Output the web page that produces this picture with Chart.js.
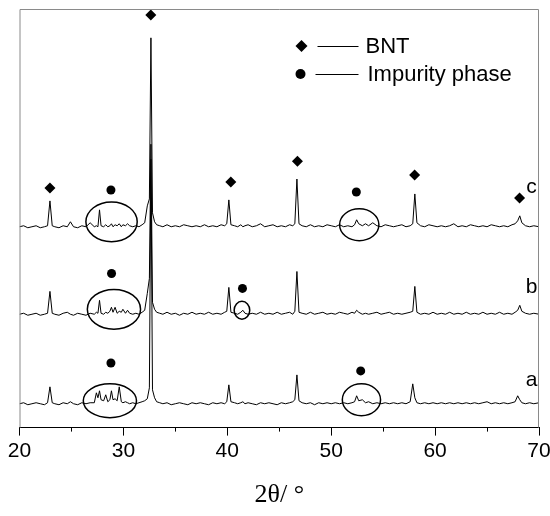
<!DOCTYPE html>
<html>
<head>
<meta charset="utf-8">
<script src="https://cdn.jsdelivr.net/npm/chart.js@4.4.1/dist/chart.umd.min.js"></script>
<style>
  body { margin: 0; background: #fff; }
  #wrap { width: 550px; height: 516px; position: relative; }
</style>
</head>
<body>
<div id="wrap"><canvas id="xrd-chart"></canvas></div>
<script>
// 2theta grid shared by the three patterns
const twoTheta = [
  20.0, 20.4, 20.8, 21.2, 21.6, 22.0, 22.4, 22.7, 22.93, 23.15,
  23.4, 23.8, 24.2, 24.6, 24.9, 25.2, 25.6, 26.0, 26.4, 26.8,
  27.2, 27.4, 27.55, 27.7, 27.85, 28.1, 28.3, 28.5, 28.7, 28.85,
  29.0, 29.2, 29.4, 29.6, 29.8, 29.95, 30.2, 30.4, 30.6, 30.9,
  31.2, 31.5, 31.8, 32.05, 32.3, 32.5, 32.65, 32.8, 33.0, 33.2,
  33.5, 33.8, 34.2, 34.6, 35.0, 35.4, 35.8, 36.2, 36.6, 37.0,
  37.4, 37.8, 38.2, 38.6, 39.0, 39.4, 39.75, 39.95, 40.15, 40.35,
  40.7, 41.0, 41.3, 41.5, 41.7, 42.0, 42.4, 42.8, 43.2, 43.6,
  44.0, 44.4, 44.8, 45.2, 45.6, 46.0, 46.3, 46.5, 46.7, 46.9,
  47.2, 47.6, 48.0, 48.4, 48.8, 49.2, 49.6, 50.0, 50.4, 50.8,
  51.2, 51.6, 52.0, 52.25, 52.45, 52.65, 53.0, 53.3, 53.6, 54.0,
  54.4, 54.8, 55.2, 55.6, 56.0, 56.4, 56.8, 57.2, 57.6, 57.85,
  58.05, 58.25, 58.6, 59.0, 59.4, 59.8, 60.2, 60.6, 61.0, 61.4,
  61.8, 62.2, 62.6, 63.0, 63.4, 63.8, 64.2, 64.6, 65.0, 65.4,
  65.8, 66.2, 66.6, 67.0, 67.4, 67.7, 67.95, 68.15, 68.35, 68.7,
  69.1, 69.5, 70.0
];

// intensities (arbitrary units, patterns already stacked)
const traceC = [
  202, 203, 201, 202, 203, 201, 202, 203, 228, 203,
  202, 201, 203, 202, 207, 202, 201, 203, 202, 206,
  202, 203, 202, 219, 203, 202, 204, 202, 203, 205,
  202, 204, 203, 205, 202, 204, 203, 205, 203, 202,
  203, 202, 204, 206, 223, 230, 392, 216, 207, 204,
  203, 202, 204, 202, 203, 202, 204, 203, 202, 203,
  202, 204, 202, 203, 202, 204, 203, 205, 229, 204,
  203, 202, 204, 202, 203, 204, 202, 203, 205, 202,
  203, 204, 202, 203, 202, 204, 203, 205, 250, 205,
  203, 202, 204, 202, 203, 202, 204, 203, 202, 204,
  202, 203, 202, 204, 209, 205, 203, 205, 203, 206,
  203, 202, 204, 203, 202, 203, 204, 202, 203, 205,
  235, 206, 203, 202, 204, 203, 202, 203, 202, 203,
  205, 202, 203, 202, 204, 203, 202, 203, 202, 204,
  203, 202, 203, 202, 204, 205, 208, 213, 206, 203,
  202, 203, 202
];

const traceB = [
  114, 115, 113, 114, 115, 113, 114, 115, 137, 115,
  114, 113, 115, 116, 114, 113, 115, 114, 113, 115,
  114, 116, 115, 128, 115, 114, 116, 115, 117, 121,
  116, 121, 115, 117, 116, 119, 115, 118, 115, 114,
  115, 114, 116, 118, 135, 150, 285, 126, 119, 116,
  115, 114, 116, 114, 115, 113, 115, 114, 116, 114,
  115, 114, 116, 114, 115, 114, 116, 117, 141, 116,
  115, 114, 116, 118, 115, 114, 115, 114, 116, 114,
  115, 114, 116, 114, 115, 116, 114, 117, 157, 116,
  115, 114, 116, 114, 115, 116, 114, 115, 114, 116,
  115, 114, 116, 115, 118, 116, 114, 115, 114, 115,
  116, 114, 115, 116, 114, 115, 114, 115, 116, 117,
  142, 116, 114, 115, 114, 116, 114, 115, 114, 116,
  114, 115, 114, 116, 114, 115, 114, 116, 114, 115,
  114, 116, 114, 115, 114, 116, 118, 123, 117, 115,
  114, 115, 114
];

const traceA = [
  24, 25, 23, 24, 25, 24, 23, 25, 41, 25,
  24, 23, 25, 24, 26, 24, 23, 25, 24, 25,
  25, 35, 30, 37, 28, 27, 33, 26, 28, 37,
  28, 29, 27, 41, 26, 25, 26, 25, 24, 25,
  24, 25, 26, 27, 29, 40, 270, 38, 30, 26,
  25, 24, 25, 23, 24, 25, 24, 23, 25, 24,
  25, 24, 23, 25, 24, 25, 24, 26, 43, 26,
  25, 24, 25, 26, 24, 25, 24, 23, 25, 24,
  25, 24, 23, 25, 24, 25, 26, 28, 53, 27,
  25, 24, 25, 23, 25, 24, 25, 24, 25, 24,
  25, 24, 25, 26, 32, 27, 28, 25, 26, 24,
  25, 24, 25, 24, 25, 24, 25, 24, 26, 44,
  30, 25, 24, 25, 24, 25, 24, 25, 24, 25,
  24, 25, 24, 25, 24, 25, 24, 25, 26, 24,
  25, 24, 25, 24, 25, 26, 32, 28, 25, 24,
  25, 24, 25
];

// phase markers
const bntX = [22.93, 32.64, 40.34, 46.75, 58.03, 68.13];
const bntY = [241, 415, 247, 268, 254, 231];
const impurityX = [28.8, 52.42, 28.86, 41.46, 28.8, 52.84];
const impurityY = [239, 237, 155, 140, 65, 57];

// circled regions: centre angle, centre intensity, half width (deg), half height
const ringX = [28.86, 52.7, 29.09, 41.41, 28.7, 52.91];
const ringY = [207, 204, 119, 118, 27, 28];
const ringW = [2.47, 1.89, 2.56, 0.75, 2.56, 1.84];
const ringH = [20, 16, 20, 9, 17, 16];

const sampleNames = ["c", "b", "a"];
const sampleLabelX = [69.28, 69.28, 69.28];
const sampleLabelY = [236, 135, 42];

const xTicks = [20, 30, 40, 50, 60, 70];
const minorTicks = [25, 35, 45, 55, 65];

const sansFont = "'Liberation Sans', Arial, sans-serif";

function toPoints(xs, ys) {
  return xs.map((x, i) => ({ x: x, y: ys[i] }));
}

const lineStyle = {
  showLine: true,
  borderColor: '#000',
  borderWidth: 1,
  pointRadius: 0,
  tension: 0
};

// frame, minor ticks, rings, sample labels and the legend box
const extrasPlugin = {
  id: 'extras',
  afterDatasetsDraw(chart) {
    const ctx = chart.ctx;
    const xs = chart.scales.x, ys = chart.scales.y;
    const area = chart.chartArea;

    ctx.save();
    // grey frame on top, left, right
    ctx.strokeStyle = '#8a8a8a';
    ctx.lineWidth = 1;
    ctx.beginPath();
    ctx.moveTo(area.left + 0.5, area.bottom);
    ctx.lineTo(area.left + 0.5, area.top + 0.5);
    ctx.lineTo(area.right - 0.5, area.top + 0.5);
    ctx.lineTo(area.right - 0.5, area.bottom);
    ctx.stroke();

    // minor ticks
    ctx.strokeStyle = '#000';
    ctx.beginPath();
    minorTicks.forEach(v => {
      const px = Math.round(xs.getPixelForValue(v)) + 0.5;
      ctx.moveTo(px, area.bottom);
      ctx.lineTo(px, area.bottom + 4);
    });
    ctx.stroke();

    // rings
    ctx.lineWidth = 1.5;
    ringX.forEach((cxv, i) => {
      const cx = xs.getPixelForValue(cxv);
      const cy = ys.getPixelForValue(ringY[i]);
      const rx = Math.abs(xs.getPixelForValue(cxv + ringW[i]) - cx);
      const ry = Math.abs(ys.getPixelForValue(ringY[i] + ringH[i]) - cy);
      ctx.beginPath();
      ctx.ellipse(cx, cy, rx, ry, 0, 0, Math.PI * 2);
      ctx.stroke();
    });

    // a, b, c
    ctx.fillStyle = '#000';
    ctx.font = '21px ' + sansFont;
    ctx.textAlign = 'center';
    ctx.textBaseline = 'alphabetic';
    sampleNames.forEach((name, i) => {
      ctx.fillText(name, xs.getPixelForValue(sampleLabelX[i]), ys.getPixelForValue(sampleLabelY[i]));
    });

    // legend
    const lx = area.left, ly = area.top;
    ctx.lineWidth = 1;
    ctx.beginPath();
    ctx.moveTo(lx + 282, ly + 31);
    ctx.lineTo(lx + 288, ly + 37);
    ctx.lineTo(lx + 282, ly + 43);
    ctx.lineTo(lx + 276, ly + 37);
    ctx.closePath();
    ctx.fill();
    ctx.beginPath();
    ctx.arc(lx + 281, ly + 65, 5, 0, Math.PI * 2);
    ctx.fill();
    ctx.beginPath();
    ctx.moveTo(lx + 298, ly + 37.5);
    ctx.lineTo(lx + 339, ly + 37.5);
    ctx.moveTo(lx + 296, ly + 65.5);
    ctx.lineTo(lx + 339, ly + 65.5);
    ctx.stroke();
    ctx.font = '22px ' + sansFont;
    ctx.textAlign = 'left';
    ctx.textBaseline = 'middle';
    ctx.fillText('BNT', lx + 346, ly + 38);
    ctx.fillText('Impurity phase', lx + 348, ly + 66);
    ctx.restore();
  }
};

const xrdChart = new Chart(document.getElementById('xrd-chart'), {
  type: 'scatter',
  data: {
    datasets: [
      Object.assign({ label: 'c', data: toPoints(twoTheta, traceC) }, lineStyle),
      Object.assign({ label: 'b', data: toPoints(twoTheta, traceB) }, lineStyle),
      Object.assign({ label: 'a', data: toPoints(twoTheta, traceA) }, lineStyle),
      {
        label: 'BNT',
        data: toPoints(bntX, bntY),
        pointStyle: 'rectRot',
        pointRadius: 5.5,
        backgroundColor: '#000',
        borderColor: '#000',
        borderWidth: 0
      },
      {
        label: 'Impurity phase',
        data: toPoints(impurityX, impurityY),
        pointStyle: 'circle',
        pointRadius: 4.5,
        backgroundColor: '#000',
        borderColor: '#000',
        borderWidth: 0
      }
    ]
  },
  options: {
    responsive: true,
    maintainAspectRatio: false,
    animation: false,
    events: [],
    layout: { padding: { left: 19.5, right: 11, top: 9, bottom: 5 } },
    plugins: {
      legend: { display: false },
      tooltip: { enabled: false }
    },
    scales: {
      x: {
        type: 'linear',
        min: 20,
        max: 70,
        afterBuildTicks: scale => {
          scale.ticks = xTicks.map(v => ({ value: v }));
        },
        afterFit: scale => {
          // let the end labels hang over the frame like the original
          scale.paddingLeft = 0;
          scale.paddingRight = 0;
        },
        ticks: {
          color: '#000',
          padding: 3,
          maxRotation: 0,
          font: { family: sansFont, size: 21 }
        },
        grid: {
          drawOnChartArea: false,
          drawTicks: true,
          tickLength: 8,
          tickColor: '#000',
          tickWidth: 1
        },
        border: { color: '#000', width: 1 },
        title: {
          display: true,
          text: '2θ/ °',
          color: '#000',
          padding: { top: 13, bottom: 0 },
          font: { family: "'Liberation Serif', 'Times New Roman', serif", size: 26 }
        }
      },
      y: {
        display: false,
        min: 0,
        max: 421
      }
    }
  },
  plugins: [extrasPlugin]
});
</script>
</body>
</html>
